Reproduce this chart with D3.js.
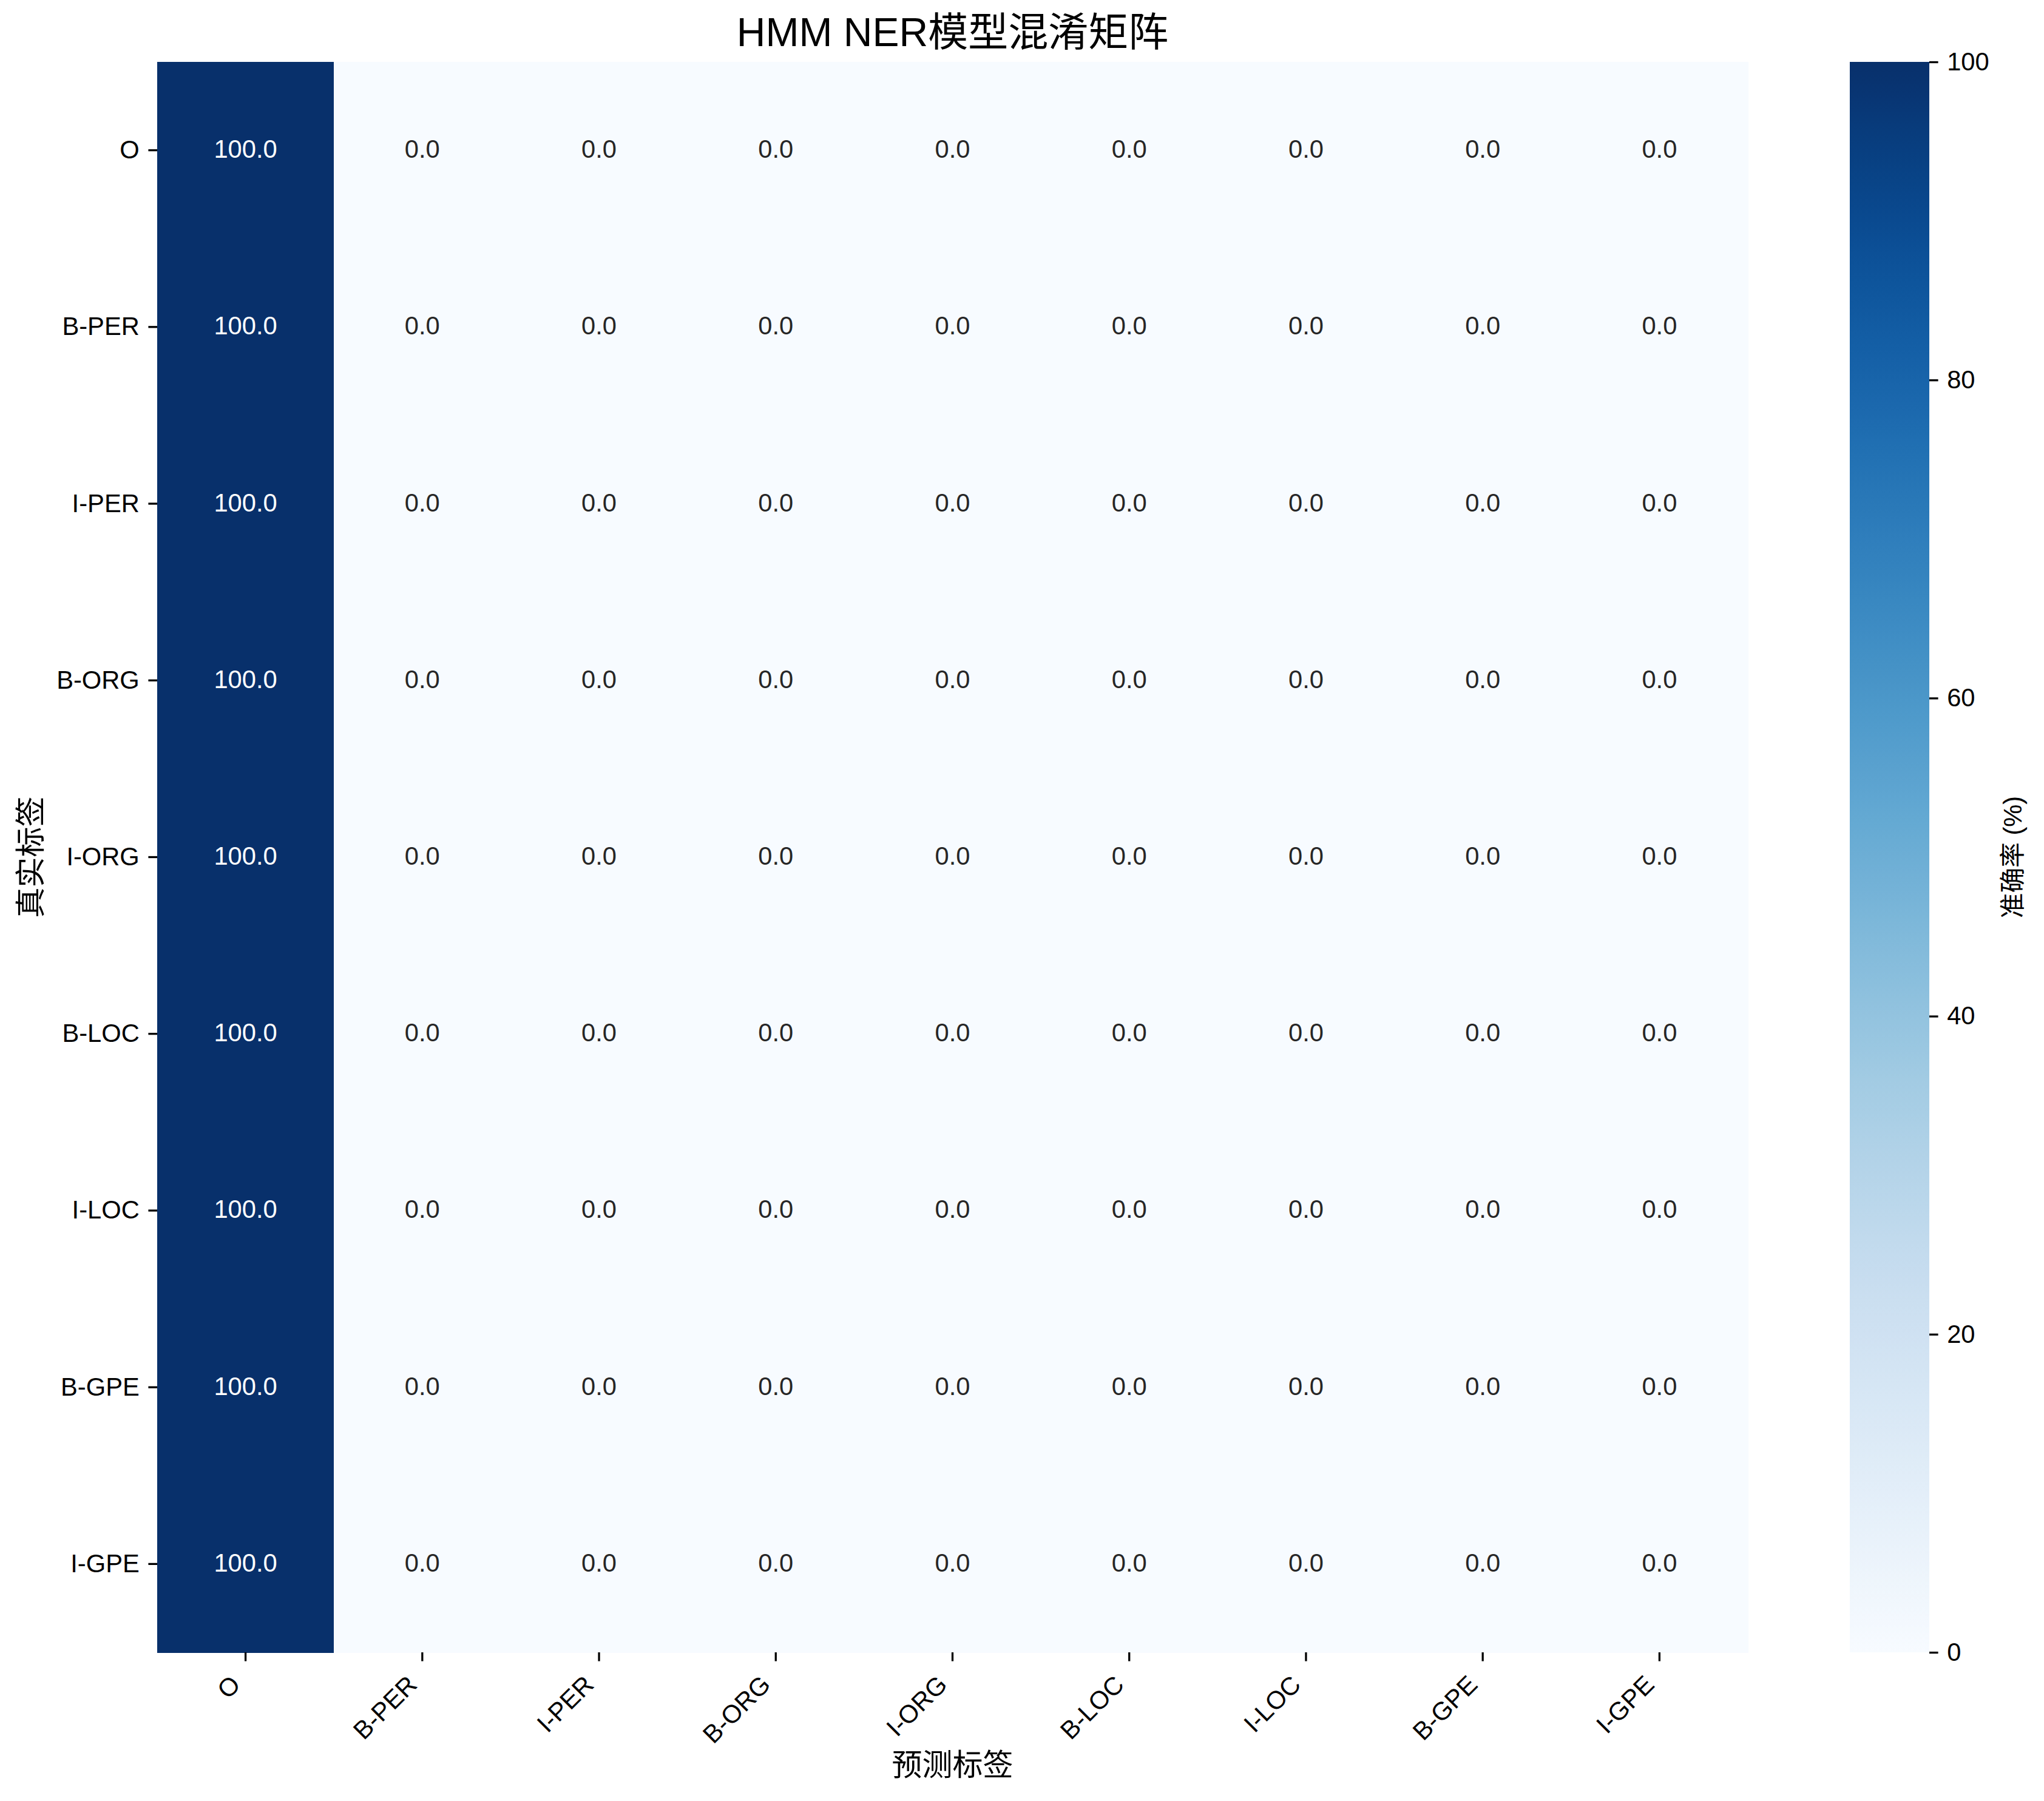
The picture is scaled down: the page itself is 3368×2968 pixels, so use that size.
<!DOCTYPE html>
<html>
<head>
<meta charset="utf-8">
<script src="https://cdn.jsdelivr.net/npm/d3@7"></script>
<style>
  html, body { margin: 0; padding: 0; background: #ffffff; }
  text { font-family: "Liberation Sans", Arial, "Noto Sans CJK SC", sans-serif; }
</style>
</head>
<body>
<svg id="chart" width="3368" height="2968"></svg>
<script>
// ---- data ----
const title = "HMM NER模型混淆矩阵";
const xAxisLabel = "预测标签";
const yAxisLabel = "真实标签";
const colorbarLabel = "准确率 (%)";
const trueLabels = ["O", "B-PER", "I-PER", "B-ORG", "I-ORG", "B-LOC", "I-LOC", "B-GPE", "I-GPE"];
const predLabels = ["O", "B-PER", "I-PER", "B-ORG", "I-ORG", "B-LOC", "I-LOC", "B-GPE", "I-GPE"];
const matrixValues = [
  [100, 0, 0, 0, 0, 0, 0, 0, 0],
  [100, 0, 0, 0, 0, 0, 0, 0, 0],
  [100, 0, 0, 0, 0, 0, 0, 0, 0],
  [100, 0, 0, 0, 0, 0, 0, 0, 0],
  [100, 0, 0, 0, 0, 0, 0, 0, 0],
  [100, 0, 0, 0, 0, 0, 0, 0, 0],
  [100, 0, 0, 0, 0, 0, 0, 0, 0],
  [100, 0, 0, 0, 0, 0, 0, 0, 0],
  [100, 0, 0, 0, 0, 0, 0, 0, 0]
];
const colorDomain = [0, 100];
const colorbarTicks = [0, 20, 40, 60, 80, 100];

// ---- layout ----
const svg = d3.select("#chart");
svg.append("rect").attr("width", 3368).attr("height", 2968).attr("fill", "#ffffff");

const plot = { left: 259, top: 102, right: 2880, bottom: 2723 };
const cb = { left: 3048, right: 3179 };
const fs = 41.7;
const tickLen = 14.6, tickPad = 14.6, tickW = 3.3;

const x = d3.scaleBand().domain(predLabels).range([plot.left, plot.right]).padding(0);
const y = d3.scaleBand().domain(trueLabels).range([plot.top, plot.bottom]).padding(0);
const color = d3.scaleSequential(d3.interpolateBlues).domain(colorDomain);

const cells = [];
trueLabels.forEach((t, i) => predLabels.forEach((p, j) => cells.push({ t, p, v: matrixValues[i][j] })));

svg.append("g").attr("shape-rendering", "crispEdges")
  .selectAll("rect").data(cells).join("rect")
  .attr("x", d => Math.round(x(d.p))).attr("y", d => Math.round(y(d.t)))
  .attr("width", d => Math.round(x(d.p) + x.bandwidth()) - Math.round(x(d.p)) + 1)
  .attr("height", d => Math.round(y(d.t) + y.bandwidth()) - Math.round(y(d.t)) + 1)
  .attr("fill", d => color(d.v));

svg.append("g").selectAll("text").data(cells).join("text")
  .attr("x", d => x(d.p) + x.bandwidth() / 2)
  .attr("y", d => y(d.t) + y.bandwidth() / 2 - 2)
  .attr("text-anchor", "middle").attr("dominant-baseline", "central")
  .attr("font-size", fs)
  .attr("fill", d => d.v > 50 ? "#ffffff" : "#262626")
  .text(d => d.v.toFixed(1));

// y axis ticks + labels
const yg = svg.append("g");
yg.selectAll("line").data(trueLabels).join("line")
  .attr("x1", plot.left - tickLen).attr("x2", plot.left)
  .attr("y1", d => y(d) + y.bandwidth() / 2).attr("y2", d => y(d) + y.bandwidth() / 2)
  .attr("stroke", "#000").attr("stroke-width", tickW);
yg.selectAll("text").data(trueLabels).join("text")
  .attr("x", plot.left - tickLen - tickPad)
  .attr("y", d => y(d) + y.bandwidth() / 2 - 1)
  .attr("text-anchor", "end").attr("dominant-baseline", "central")
  .attr("font-size", fs).attr("fill", "#000")
  .text(d => d);

// x axis ticks + rotated labels (matplotlib rotation=45, ha=right)
const ascent = 0.905 * fs, descent = 0.212 * fs, r = Math.SQRT1_2;
const xg = svg.append("g");
xg.selectAll("line").data(predLabels).join("line")
  .attr("x1", d => x(d) + x.bandwidth() / 2).attr("x2", d => x(d) + x.bandwidth() / 2)
  .attr("y1", plot.bottom).attr("y2", plot.bottom + tickLen)
  .attr("stroke", "#000").attr("stroke-width", tickW);
xg.selectAll("text").data(predLabels).join("text")
  .attr("transform", d => {
    const ex = x(d) + x.bandwidth() / 2 - r * descent;
    const ey = plot.bottom + tickLen + tickPad + r * ascent;
    return `translate(${ex},${ey}) rotate(-45)`;
  })
  .attr("text-anchor", "end")
  .attr("font-size", fs).attr("fill", "#000")
  .text(d => d);

// axis labels
svg.append("text")
  .attr("x", (plot.left + plot.right) / 2).attr("y", 2926)
  .attr("text-anchor", "middle").attr("font-size", 50).attr("fill", "#000")
  .text(xAxisLabel);
svg.append("text")
  .attr("transform", `translate(68,${(plot.top + plot.bottom) / 2}) rotate(-90)`)
  .attr("text-anchor", "middle").attr("font-size", 50).attr("fill", "#000")
  .text(yAxisLabel);

// title
svg.append("text")
  .attr("x", (plot.left + plot.right) / 2).attr("y", 76)
  .attr("text-anchor", "middle").attr("font-size", 66).attr("fill", "#000")
  .text(title);

// colorbar
const cy = d3.scaleLinear().domain(colorDomain).range([plot.bottom, plot.top]);
const defs = svg.append("defs");
const grad = defs.append("linearGradient").attr("id", "cbgrad")
  .attr("x1", 0).attr("y1", 1).attr("x2", 0).attr("y2", 0);
d3.range(0, 101, 2).forEach(p => {
  grad.append("stop").attr("offset", p + "%")
    .attr("stop-color", color(colorDomain[0] + (colorDomain[1] - colorDomain[0]) * p / 100));
});
svg.append("rect")
  .attr("x", cb.left).attr("y", plot.top)
  .attr("width", cb.right - cb.left).attr("height", plot.bottom - plot.top)
  .attr("fill", "url(#cbgrad)");

const cbAxis = d3.axisRight(cy).tickValues(colorbarTicks).tickSize(tickLen).tickPadding(tickPad)
  .tickFormat(d3.format("d"));
const cbg = svg.append("g").attr("transform", `translate(${cb.right},0)`).call(cbAxis);
cbg.select(".domain").remove();
cbg.selectAll(".tick line").attr("stroke", "#000").attr("stroke-width", tickW);
cbg.selectAll(".tick text").attr("font-size", fs).attr("fill", "#000")
  .attr("font-family", "\"Liberation Sans\", Arial, \"Noto Sans CJK SC\", sans-serif");

svg.append("text")
  .attr("transform", `translate(3331,${(plot.top + plot.bottom) / 2}) rotate(-90)`)
  .attr("text-anchor", "middle").attr("font-size", fs).attr("fill", "#000")
  .text(colorbarLabel);
</script>
</body>
</html>
